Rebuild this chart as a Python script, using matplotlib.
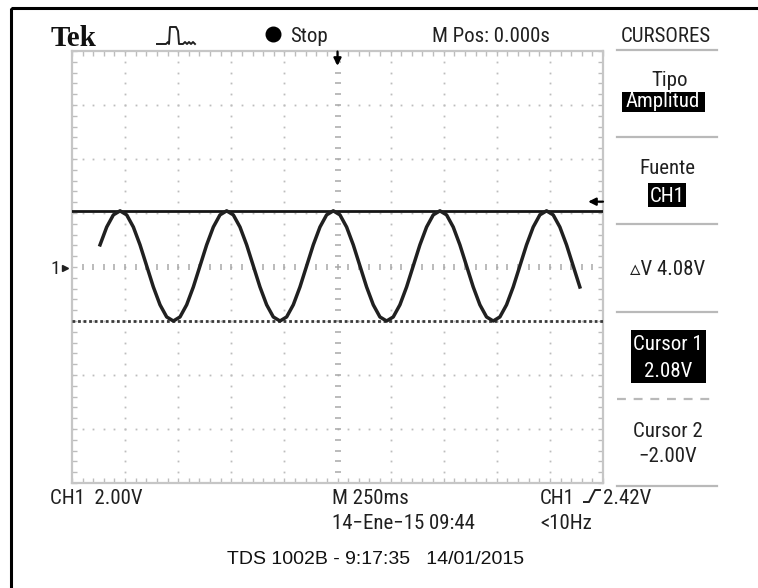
import numpy as np
import matplotlib
matplotlib.use("Agg")
import matplotlib.pyplot as plt
from matplotlib.patches import Rectangle

# scope settings shown on screen
volts_per_div = 2.0
ms_per_div = 250.0
n_hdiv, n_vdiv = 10, 8

# CH1 record (one sample every dt_ms)
t_start_ms = -1118.0
dt_ms = 31.375
ch1_volts = [0.82, 1.48, 1.93,
             2.08, 1.93, 1.48, 0.82, 0.04, -0.74, -1.40, -1.85,
             -2.00, -1.85, -1.40, -0.74, 0.04, 0.82, 1.48, 1.93,
             2.08, 1.93, 1.48, 0.82, 0.04, -0.74, -1.40, -1.85,
             -2.00, -1.85, -1.40, -0.74, 0.04, 0.82, 1.48, 1.93,
             2.08, 1.93, 1.48, 0.82, 0.04, -0.74, -1.40, -1.85,
             -2.00, -1.85, -1.40, -0.74, 0.04, 0.82, 1.48, 1.93,
             2.08, 1.93, 1.48, 0.82, 0.04, -0.74, -1.40, -1.85,
             -2.00, -1.85, -1.40, -0.74, 0.04, 0.82, 1.48, 1.93,
             2.08, 1.93, 1.48, 0.82, 0.04, -0.74]

cursor1_v = 2.08
cursor2_v = -2.00
trigger_v = 2.42

NARROW = ['Roboto Condensed', 'Archivo Narrow', 'Liberation Sans', 'DejaVu Sans']
INK = '#202020'
GRAT = '#bdbdbd'

t_ms = t_start_ms + dt_ms * np.arange(len(ch1_volts))
half_t = ms_per_div * n_hdiv / 2
half_v = volts_per_div * n_vdiv / 2

fig = plt.figure(figsize=(7.58, 5.88), dpi=100)

# graticule area
ax = fig.add_axes([72 / 758, (588 - 483) / 588, 531 / 758, 432 / 588], zorder=1)
ax.set_xlim(-half_t, half_t)
ax.set_ylim(-half_v, half_v)

minor_x = np.arange(-half_t, half_t + 1, ms_per_div / 5)
minor_y = np.arange(-half_v, half_v + 0.01, volts_per_div / 5)
ax.set_xticks(minor_x)
ax.set_yticks(minor_y)
ax.tick_params(direction='in', length=3.5, width=1, color=GRAT,
               top=True, right=True, labelbottom=False, labelleft=False)
for s in ax.spines.values():
    s.set_color('#c6c6c6')
    s.set_linewidth(1.6)

for k in range(1, n_hdiv // 2):
    for gx in (-k * ms_per_div, k * ms_per_div):
        ax.plot(np.full(len(minor_y), gx), minor_y, ls='none', marker='s',
                ms=1.3, color=GRAT, mew=0)
for k in range(1, n_vdiv // 2):
    for gy in (-k * volts_per_div, k * volts_per_div):
        ax.plot(minor_x, np.full(len(minor_x), gy), ls='none', marker='s',
                ms=1.3, color=GRAT, mew=0)
ax.plot(minor_x, np.zeros(len(minor_x)), ls='none', marker='|', ms=5,
        mew=1.1, color='#a8a8a8')
ax.plot(np.zeros(len(minor_y)), minor_y, ls='none', marker='_', ms=5,
        mew=1.1, color='#a8a8a8')

# cursors and trace
ax.axhline(cursor1_v, color='#151515', lw=2.0, zorder=3)
ax.axhline(cursor2_v, color='#3a3a3a', lw=2.0, ls=(0, (1, 1)), zorder=3)
ax.plot(t_ms, ch1_volts, color=INK, lw=2.5, zorder=4)

# trigger level and trigger position markers
ax.annotate('', xy=(1180, trigger_v), xytext=(half_t, trigger_v),
            arrowprops=dict(arrowstyle='-|>', color='black', lw=1.6,
                            mutation_scale=11, shrinkA=0, shrinkB=0),
            annotation_clip=False)
ax.annotate('', xy=(0, 7.45), xytext=(0, 7.98),
            arrowprops=dict(arrowstyle='-|>', color='black', lw=1.6,
                            mutation_scale=11, shrinkA=0, shrinkB=0),
            annotation_clip=False)

# overlay in screen pixels for the surrounding read-outs
ov = fig.add_axes([0, 0, 1, 1], zorder=3)
ov.set_xlim(0, 758)
ov.set_ylim(588, 0)
ov.axis('off')
ov.patch.set_alpha(0)

ov.add_patch(Rectangle((11, 8), 800, 700, fill=False, lw=2.2, ec='black'))


def label(x, y, s, size=15, ha='left', color=INK, **kw):
    ov.text(x, y, s, fontsize=size, ha=ha, va='baseline', color=color,
            family=NARROW, **kw)


def inverse(x0, y0, w, h):
    ov.add_patch(Rectangle((x0, y0), w, h, fc='black', ec='none'))


ov.text(51, 46, 'Tek', fontsize=21, fontweight='bold', family='Liberation Serif',
        va='baseline', color='#111')
pulse_x = [157, 166, 168, 169, 170, 176, 177, 178, 179, 183, 185, 187, 189, 191, 193, 195]
pulse_y = [44, 44, 42, 44, 27, 27, 29, 31, 44, 44, 42, 44, 42, 44, 42, 44]
ov.plot(pulse_x, pulse_y, color=INK, lw=1.4)
ov.plot([273], [34], marker='o', ms=10.5, color='black')
label(290, 42, 'Stop')
label(432, 42, 'M Pos: 0.000s')
label(666, 42, 'CURSORES', ha='center')

for y in (50, 137, 224, 312, 486):
    ov.plot([617, 717], [y, y], color='#b9b9b9', lw=1.6)
ov.plot([617, 717], [399, 399], color='#b9b9b9', lw=1.6, ls=(0, (4, 3.5)))

label(670, 86, 'Tipo', ha='center')
inverse(622, 92, 83, 20)
label(663, 107, 'Amplitud', ha='center', color='white')
label(667, 174, 'Fuente', ha='center')
inverse(648, 183, 38, 24)
label(667, 202, 'CH1', ha='center', color='white')
label(668, 275, '\u25b5V 4.08V', ha='center')
inverse(631, 330, 75, 53)
label(668, 350, 'Cursor 1', ha='center', color='white')
label(668, 377, '2.08V', ha='center', color='white')
label(668, 437, 'Cursor 2', ha='center')
label(668, 462, '\u22122.00V', ha='center')

label(50, 274, '1', size=14)
ov.plot([65], [268], marker='>', ms=4.5, color=INK)

label(50, 504, 'CH1  2.00V')
label(332, 504, 'M 250ms')
label(540, 504, 'CH1')
ov.plot([584, 589, 595, 600], [502, 502, 490, 490], color=INK, lw=1.4)
label(603, 504, '2.42V')
label(332, 529, '14\u2212Ene\u221215 09:44')
label(540, 529, '<10Hz')
ov.text(376, 564, 'TDS 1002B - 9:17:35   14/01/2015', fontsize=14, ha='center',
        va='baseline', family='Liberation Sans', color='#111')

fig.savefig('out.png', dpi=100)
